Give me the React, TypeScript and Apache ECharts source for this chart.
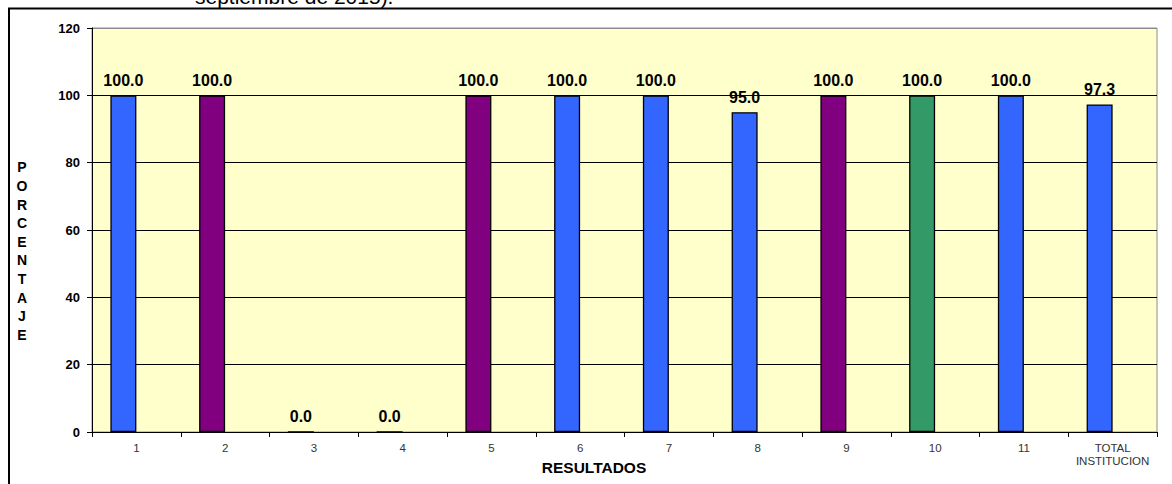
import React, { useEffect, useRef } from "react";
import * as echarts from "echarts";

const categories = ["1", "2", "3", "4", "5", "6", "7", "8", "9", "10", "11", "TOTAL\nINSTITUCION"];
const values = [100.0, 100.0, 0.0, 0.0, 100.0, 100.0, 100.0, 95.0, 100.0, 100.0, 100.0, 97.3];
const barColors = ["#3366FF", "#800080", "#3366FF", "#3366FF", "#800080", "#3366FF", "#3366FF", "#3366FF", "#800080", "#339966", "#3366FF", "#3366FF"];
const yTicks = { min: 0, max: 120, interval: 20 };
const titleText = "septiembre de 2015).";
const xAxisName = "RESULTADOS";
const yAxisName = "PORCENTAJE";

const FONT = 'Arial, "Liberation Sans", sans-serif';

export default function App() {
  const ref = useRef<HTMLDivElement>(null);
  useEffect(() => {
    if (!ref.current) return;
    const chart = echarts.init(ref.current, undefined, { renderer: "svg" });
    chart.setOption({
      animation: false,
      backgroundColor: "#FFFFFF",
      grid: {
        left: 92,
        top: 28,
        right: 15,
        bottom: 52,
        show: true,
        backgroundColor: "#FFFFCC",
        borderColor: "#8C8C8C",
        borderWidth: 1,
      },
      xAxis: {
        type: "category",
        data: categories,
        axisLine: { lineStyle: { color: "#000", width: 1 } },
        axisTick: { show: true, alignWithLabel: false, length: 5, lineStyle: { color: "#000" } },
        axisLabel: { fontFamily: FONT, fontSize: 11.5, color: "#333", margin: 9, lineHeight: 13, interval: 0 },
      },
      yAxis: {
        type: "value",
        min: yTicks.min,
        max: yTicks.max,
        interval: yTicks.interval,
        axisLine: { show: true, lineStyle: { color: "#000", width: 1 } },
        axisTick: { show: true, length: 5, lineStyle: { color: "#000" } },
        axisLabel: { fontFamily: FONT, fontSize: 13, fontWeight: "bold", color: "#000", margin: 12 },
        splitLine: {
          show: true,
          lineStyle: { color: ["#000", "#000", "#000", "#000", "#000", "#000", "#8C8C8C"], width: 1 },
        },
      },
      series: [
        {
          type: "bar",
          barWidth: 26,
          barGap: "0%",
          data: values.map((v, i) => ({
            value: v,
            itemStyle: { color: barColors[i], borderColor: "#000", borderWidth: 1.3 },
          })),
          label: {
            show: true,
            position: "top",
            distance: 7,
            fontFamily: FONT,
            fontSize: 16,
            fontWeight: "bold",
            color: "#000",
            formatter: (p: any) => Number(p.value).toFixed(1),
          },
        },
        {
          type: "bar",
          barWidth: 26,
          barGap: "0%",
          data: values.map(() => null),
        },
      ],
      graphic: [
        {
          type: "text",
          left: 195,
          top: -14,
          style: { text: titleText, fontFamily: FONT, fontSize: 21, fill: "#000" },
          z: 1,
        },
        {
          type: "rect",
          shape: { x: 9, y: 8.5, width: 1300, height: 600 },
          style: { fill: "none", stroke: "#000", lineWidth: 2 },
          z: 10,
        },
        {
          type: "text",
          x: 594,
          y: 467,
          style: {
            text: xAxisName,
            fontFamily: FONT,
            fontSize: 15.5,
            fontWeight: "bold",
            fill: "#000",
            align: "center",
            verticalAlign: "middle",
          },
        },
        {
          type: "text",
          x: 22,
          y: 251,
          style: {
            text: yAxisName.split("").join("\n"),
            fontFamily: FONT,
            fontSize: 14,
            fontWeight: "bold",
            fill: "#000",
            lineHeight: 18.6,
            align: "center",
            verticalAlign: "middle",
          },
        },
      ],
    });
    return () => chart.dispose();
  }, []);
  return <div ref={ref} style={{ position: "fixed", left: 0, top: 0, width: 1172, height: 484 }} />;
}
